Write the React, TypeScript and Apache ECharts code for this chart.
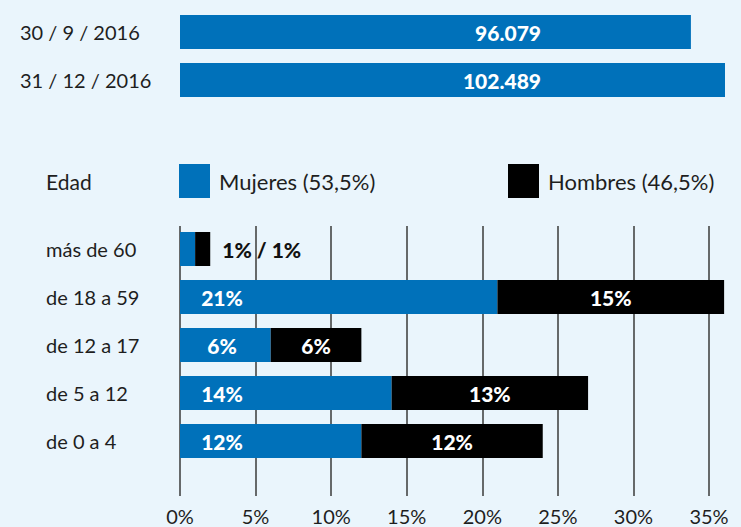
import React, { useEffect, useRef } from "react";
import * as echarts from "echarts";

const dates = ["30 / 9 / 2016", "31 / 12 / 2016"];
const totals = [96079, 102489];
const totalLabels = ["96.079", "102.489"];
const ageGroups = ["más de 60", "de 18 a 59", "de 12 a 17", "de 5 a 12", "de 0 a 4"];
const mujeres = [1, 21, 6, 14, 12];
const hombres = [1, 15, 6, 13, 12];
const seriesNames = ["Mujeres (53,5%)", "Hombres (46,5%)"];
const axisMin = 0;
const axisMax = 35;
const axisStep = 5;

const BLUE = "#0071BA";
const BLACK = "#000000";
const TEXT = "#1e1e1e";
const FONT = "Lato, 'Noto Sans', sans-serif";

export default function App() {
  const ref = useRef<HTMLDivElement>(null);
  useEffect(() => {
    if (!ref.current) return;
    const chart = echarts.init(ref.current, null, { renderer: "svg" });
    const small = (i: number) => mujeres[i] + hombres[i] < 4;
    const legendBase = {
      top: 164,
      padding: 0,
      icon: "rect",
      itemWidth: 31,
      itemHeight: 34,
      selectedMode: false,
      textStyle: { fontSize: 22, color: TEXT, fontFamily: FONT, padding: [0, 0, 0, 4] },
    };
    const option: any = {
      animation: false,
      backgroundColor: "#EAF5FC",
      textStyle: { fontFamily: FONT },
      graphic: [
        {
          type: "text",
          x: 46,
          y: 181,
          style: { text: "Edad", fontSize: 21, fontFamily: FONT, fill: TEXT, verticalAlign: "middle" },
        },
      ],
      legend: [
        { ...legendBase, data: [seriesNames[0]], left: 179 },
        { ...legendBase, data: [seriesNames[1]], left: 508 },
      ],
      grid: [
        { left: 180, top: 8, width: 545, height: 96 },
        { left: 180, top: 225, width: 529, height: 240 },
        { left: 180, top: 226, width: 529, height: 270 },
      ],
      xAxis: [
        { gridIndex: 0, type: "value", min: 0, max: totals[1], show: false },
        { gridIndex: 1, type: "value", min: axisMin, max: axisMax, interval: axisStep, show: false },
        {
          gridIndex: 2,
          type: "value",
          min: axisMin,
          max: axisMax,
          interval: axisStep,
          axisLine: { show: false },
          axisTick: { show: false },
          splitLine: { show: true, lineStyle: { color: "#3a3a3a", width: 1.5 } },
          axisLabel: {
            formatter: (v: number) => `${v}%`,
            fontSize: 20,
            color: TEXT,
            fontFamily: FONT,
            margin: 10,
            showMinLabel: true,
            showMaxLabel: true,
          },
        },
      ],
      yAxis: [
        {
          gridIndex: 0,
          type: "category",
          data: dates,
          inverse: true,
          axisLine: { show: false },
          axisTick: { show: false },
          axisLabel: { align: "left", margin: 160, fontSize: 20, color: TEXT, fontFamily: FONT },
        },
        {
          gridIndex: 1,
          type: "category",
          data: ageGroups,
          inverse: true,
          axisLine: { show: false },
          axisTick: { show: false },
          axisLabel: { align: "left", margin: 134, fontSize: 20, color: TEXT, fontFamily: FONT },
        },
        { gridIndex: 2, type: "value", min: 0, max: 1, show: false },
      ],
      series: [
        {
          type: "bar",
          xAxisIndex: 0,
          yAxisIndex: 0,
          data: totals,
          barWidth: 34,
          itemStyle: { color: BLUE },
          label: {
            show: true,
            position: [361, "50%"],
            align: "right",
            verticalAlign: "middle",
            formatter: (p: any) => totalLabels[p.dataIndex],
            color: "#fff",
            fontWeight: 900,
            fontSize: 21,
            fontFamily: FONT,
          },
        },
        {
          name: seriesNames[0],
          type: "bar",
          stack: "edad",
          clip: false,
          xAxisIndex: 1,
          yAxisIndex: 1,
          barWidth: 34,
          itemStyle: { color: BLUE },
          data: mujeres.map((v, i) => ({
            value: v,
            label: { show: !small(i) },
          })),
          label: {
            show: true,
            position: [42, "50%"],
            align: "center",
            verticalAlign: "middle",
            formatter: (p: any) => `${p.value}%`,
            color: "#fff",
            fontWeight: 900,
            fontSize: 21,
            fontFamily: FONT,
          },
        },
        {
          name: seriesNames[1],
          type: "bar",
          stack: "edad",
          clip: false,
          xAxisIndex: 1,
          yAxisIndex: 1,
          barWidth: 34,
          itemStyle: { color: BLACK },
          data: hombres.map((v, i) =>
            small(i)
              ? {
                  value: v,
                  label: {
                    position: "right",
                    distance: 12,
                    color: "#111",
                    formatter: `${mujeres[i]}% / ${hombres[i]}%`,
                  },
                }
              : { value: v }
          ),
          label: {
            show: true,
            position: "inside",
            formatter: (p: any) => `${p.value}%`,
            color: "#fff",
            fontWeight: 900,
            fontSize: 21,
            fontFamily: FONT,
          },
        },
      ],
    };
    chart.setOption(option);
    return () => chart.dispose();
  }, []);
  return (
    <div
      ref={ref}
      style={{ position: "fixed", left: 0, top: 0, width: 741, height: 527 }}
    />
  );
}
